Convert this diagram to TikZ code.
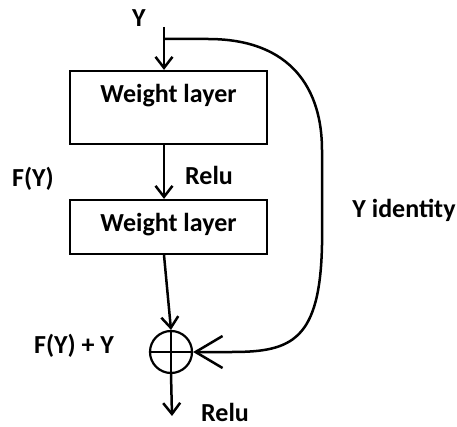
\documentclass[tikz,border=0pt]{standalone}
\usepackage{fontspec}
\setmainfont{Carlito}
\usetikzlibrary{arrows.meta}
\begin{document}
\begin{tikzpicture}[x=1pt,y=-1pt,font=\fontsize{26}{31}\selectfont\bfseries,
  layer/.style={draw,line width=2.2pt,inner sep=0pt,minimum width=197pt,anchor=base},
  lbl/.style={inner sep=0pt,anchor=base},
  flow/.style={line width=2.5pt,-{Straight Barb[length=11pt,width=17pt,line width=2.5pt]}},
  wide/.style={line width=2.5pt,-{Straight Barb[length=27pt,width=32pt,line width=2.5pt]}}]
\useasboundingbox (0,0) rectangle (457,427);
\coordinate (in) at (164,27);
\coordinate (split) at (164,39);
\coordinate (out) at (172,416);
\node[lbl] (y) at (139,27) {Y};
\node[layer,text height=32pt,text depth=41pt] (w1) at (168.5,103) {Weight layer};
\node[layer,text height=32pt,text depth=22pt] (w2) at (168.5,232) {Weight layer};
\node[draw,circle,line width=2.2pt,minimum size=42pt,inner sep=0pt] (sum) at (171,352) {};
\draw[line width=2.2pt] (sum.north) -- (sum.south) (sum.west) -- (sum.east);
\node[lbl] (fy) at (33,187) {F(Y)};
\node[lbl] (relu1) at (209,185) {Relu};
\node[lbl] (ident) at (404,218) {Y identity};
\node[lbl] (fsum) at (74,353) {F(Y) + Y};
\node[lbl] (relu2) at (225,421) {Relu};
\draw[flow] (in) -- (in |- w1.north);
\draw[flow] (w1.south -| in) -- (in |- w2.north);
\draw[flow] (w2.south -| in) -- (sum.north);
\draw[flow] (sum.south) -- (out);
\draw[wide] (split) -- (208,39) .. controls (292,39) and (322,90) .. (322,150)
  -- (322,245) .. controls (320,340) and (292,352) .. (232,352) -- (sum.east);
\end{tikzpicture}
\end{document}
